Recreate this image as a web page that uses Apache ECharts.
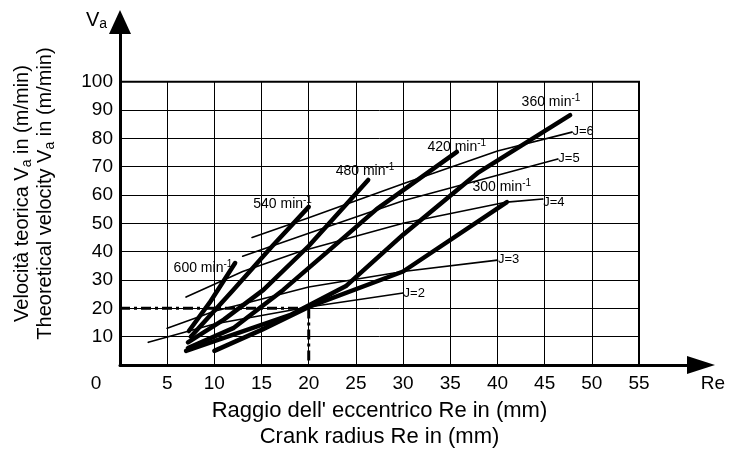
<!DOCTYPE html>
<html><head><meta charset="utf-8">
<script src="https://cdn.jsdelivr.net/npm/echarts@6/dist/echarts.min.js"></script>
<style>html,body{margin:0;padding:0;background:#fff}#c{width:729px;height:459px}</style>
</head><body><div id="c"></div>
<script>
// Axis ranges / ticks
const xMin = 0, xMax = 55, xStep = 5;
const yMin = 0, yMax = 100, yStep = 10;

// Speed curves (min^-1), thick lines: [Re mm, Va m/min]
const speedLabels = ['600', '540', '480', '420', '360', '300'];
const n600 = [[7.3,12],[9.5,22],[12.2,36]];
const n540 = [[7.5,10],[12,26.5],[16,41.5],[20,55.8]];
const n480 = [[7.2,8],[11,16],[15.2,26.5],[20,42],[26.3,65.3]];
const n420 = [[7.2,6],[12,13],[17.3,26.5],[22,40],[27.2,55],[35.7,75.2]];
const n360 = [[7,5],[18,17.6],[24,28],[30,46],[38,68],[47.7,88.2]];
const n300 = [[10,5],[15,12.4],[20,20.5],[30,33],[41,57.5]];

// Ratio curves J, thin lines
const jLabels = ['J=2', 'J=3', 'J=4', 'J=5', 'J=6'];
const j2 = [[3,8],[10,14.5],[20,20.5],[30,25.4]];
const j3 = [[5,13],[10,19],[20,27.5],[30,33],[40,37]];
const j4 = [[7,24],[13,33],[19,40],[30,50],[41,57.5],[44.8,58.6]];
const j5 = [[13,38.4],[20,46.5],[30,58],[40,67],[46.4,72.7]];
const j6 = [[14,45],[20,52],[30,64],[40,75.5],[47.9,82.2]];

// Example reading (dash-dot)
const example = [[0,20],[20,20],[20,0]];

const speedData = [n600, n540, n480, n420, n360, n300];
const jData = [j2, j3, j4, j5, j6];
// label placement (style only)
const speedLabelPos = [[-61,6],[-55,-2],[-32,-8],[-29,-4],[-48,-12],[-34,-14]];
const jLabelPos = [[1,1],[1,0],[1,4],[1,0],[1,0]];

const FONT = 'Liberation Sans, Arial, Helvetica, sans-serif';
const supRich = { s: { fontSize: 10, fontFamily: FONT, color: '#000', padding: [0,0,9,0] } };

function mkLine(data, width, labelText, pos, isSpeed) {
  const last = data.length - 1;
  return {
    type: 'line', xAxisIndex: 0, yAxisIndex: 0,
    symbol: 'circle', symbolSize: 1, showSymbol: true,
    silent: true, animation: false,
    lineStyle: { color: '#000', width: width, cap: 'round', join: 'round' },
    itemStyle: { color: '#000' },
    data: data.map((p, i) => i === last ? {
      value: p,
      label: {
        show: true, position: pos, align: 'left', verticalAlign: 'middle',
        fontFamily: FONT, fontSize: isSpeed ? 14 : 13, color: '#000',
        formatter: isSpeed ? (labelText + ' min{s|-1}') : labelText,
        rich: supRich
      }
    } : p)
  };
}

const series = [];
jData.forEach((d, i) => series.push(mkLine(d, 1.6, jLabels[i], jLabelPos[i], false)));
speedData.forEach((d, i) => series.push(mkLine(d, 4.5, speedLabels[i], speedLabelPos[i], true)));
series.push({
  type: 'line', xAxisIndex: 0, yAxisIndex: 0, symbol: 'none', silent: true, animation: false,
  lineStyle: { color: '#000', width: 3, type: [10,4,3,4] },
  data: example
});

const chart = echarts.init(document.getElementById('c'), null, { renderer: 'canvas' });
chart.setOption({
  animation: false,
  backgroundColor: '#fff',
  textStyle: { fontFamily: FONT },
  grid: [
    { left: 120, top: 81.67, width: 519, height: 283.33, show: true, borderColor: '#000', borderWidth: 2, containLabel: false },
    { left: 120, top: 22, width: 581, height: 343, containLabel: false }
  ],
  xAxis: [
    {
      type: 'value', gridIndex: 0, min: xMin, max: xMax, interval: xStep,
      axisLine: { show: false }, axisTick: { show: false },
      splitLine: { show: true, lineStyle: { color: '#000', width: 1 } },
      axisLabel: {
        fontFamily: FONT, fontSize: 19, color: '#000', margin: 9,
        formatter: v => v === 0 ? '{z|0}' : String(v),
        rich: { z: { fontFamily: FONT, fontSize: 19, color: '#000', padding: [0,48,0,0] } }
      },
      name: "Raggio dell' eccentrico Re in (mm)\nCrank radius Re in (mm)",
      nameLocation: 'middle', nameGap: 33,
      nameTextStyle: { fontFamily: FONT, fontSize: 22, color: '#000', lineHeight: 26 }
    },
    {
      type: 'value', gridIndex: 1, min: 0, max: 1,
      axisLine: { show: true, symbol: ['none', 'triangle'], symbolSize: [18, 28], lineStyle: { color: '#000', width: 3 } },
      axisTick: { show: false }, axisLabel: { show: false }, splitLine: { show: false },
      name: 'Re', nameLocation: 'end', nameGap: 0,
      nameTextStyle: { fontFamily: FONT, fontSize: 19, color: '#000', align: 'center', verticalAlign: 'top', padding: [9,0,0,24] }
    }
  ],
  yAxis: [
    {
      type: 'value', gridIndex: 0, min: yMin, max: yMax, interval: yStep,
      axisLine: { show: false }, axisTick: { show: false },
      splitLine: { show: true, lineStyle: { color: '#000', width: 1 } },
      axisLabel: { fontFamily: FONT, fontSize: 19, color: '#000', margin: 7, formatter: v => v === 0 ? '' : String(v) }
    },
    {
      type: 'value', gridIndex: 1, min: 0, max: 1,
      axisLine: { show: true, symbol: ['none', 'triangle'], symbolSize: [22, 24], lineStyle: { color: '#000', width: 3 } },
      axisTick: { show: false }, axisLabel: { show: false }, splitLine: { show: false },
      name: 'Velocità teorica V{sub|a} in (m/min)\nTheoretical velocity V{sub|a} in (m/min)',
      nameLocation: 'middle', nameRotate: 90, nameGap: 63,
      nameTextStyle: {
        fontFamily: FONT, fontSize: 20, color: '#000', lineHeight: 23,
        rich: { sub: { fontFamily: FONT, fontSize: 14, color: '#000', padding: [9,0,0,0] } }
      }
    }
  ],
  graphic: [
    {
      type: 'text', left: 86, top: 10, silent: true,
      style: {
        text: 'V{sub|a}', fontFamily: FONT, fontSize: 20, fill: '#000',
        rich: { sub: { fontFamily: FONT, fontSize: 14, fill: '#000', padding: [9,0,0,0] } }
      }
    }
  ],
  series: series
});
</script>
</body></html>
